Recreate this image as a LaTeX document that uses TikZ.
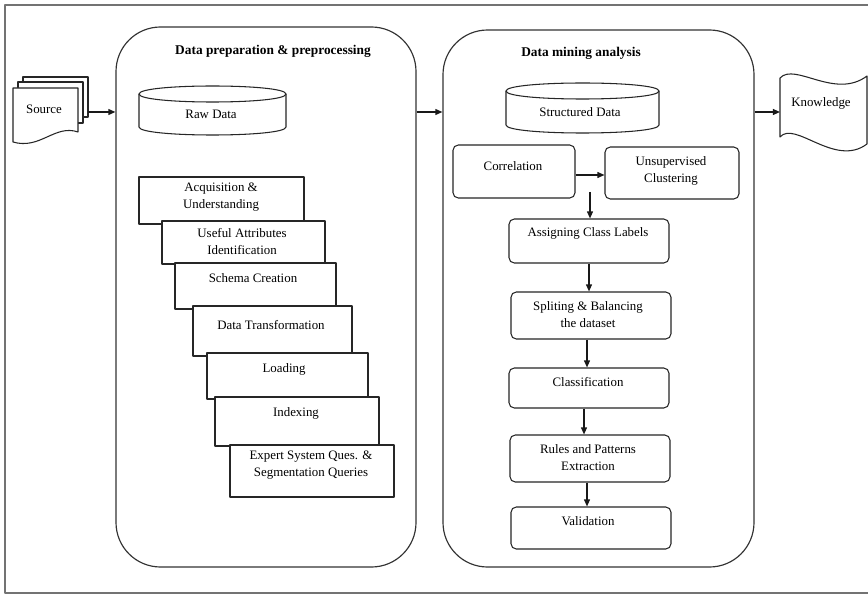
\documentclass[tikz,border=0pt]{standalone}
\usepackage{fontspec}
\setmainfont{Liberation Serif}
\usetikzlibrary{arrows.meta,calc}
\begin{document}
\begin{tikzpicture}[x=0.03cm,y=-0.03cm,
  line join=round,
  frame/.style={draw=black!55,line width=1.3pt},
  bigbox/.style={draw=black!80,line width=1pt,rounded corners=38pt,rectangle},
  stair/.style={draw=black!85,fill=white,line width=0.9pt,rectangle},
  rbox/.style={draw=black!85,line width=0.9pt,rounded corners=4.5pt,rectangle},
  shapeline/.style={draw=black!85,fill=white,line width=0.9pt},
  txt/.style={font=\fontsize{11}{14.5}\selectfont,align=center,inner sep=0pt,text=black},
  ttl/.style={font=\fontsize{11.4}{14}\selectfont\bfseries,inner sep=0pt,text=black},
  arr/.style={draw=black!90,line width=1.1pt,-{Triangle[length=6pt,width=5pt]}}
]
\useasboundingbox (0,0) rectangle (868,595);
\fill[white] (0,0) rectangle (868,595);
\draw[frame] (868,5) -- (5,5) -- (5,593) -- (868,593);

% big containers
\node[bigbox,minimum width=300*0.03cm,minimum height=540*0.03cm] (prep) at (266,297) {};
\node[bigbox,minimum width=311*0.03cm,minimum height=537*0.03cm] (mine) at (598.5,298.5) {};
\node[ttl] (prepT) at (273,51) {Data preparation \& preprocessing};
\node[ttl] (mineT) at (581,53) {Data mining analysis};

% source (multi-document)
\draw[shapeline] (23,77) rectangle (88,117);
\draw[shapeline] (18,82) rectangle (83,123);
\draw[shapeline] (13,88) -- (78,88) -- (78,132) .. controls (55,124) and (40,150) .. (13,142) -- cycle;
\node[txt] (source) at (44,109) {Source};
\coordinate (srcR) at (88,112);

% knowledge (tape)
\draw[shapeline] (780,78) .. controls (795,62) and (835,100) .. (867,76) -- (867,144) .. controls (835,168) and (795,120) .. (780,137) -- cycle;
\node[txt] (know) at (821,103) {Knowledge};
\coordinate (knowL) at (780,112);

% raw data cylinder
\draw[shapeline] (139,94) -- (139,127) .. controls (139,137.67) and (286,137.67) .. (286,127) -- (286,94);
\draw[shapeline] (139,94) .. controls (139,83.33) and (286,83.33) .. (286,94) .. controls (286,104.67) and (139,104.67) .. (139,94) -- cycle;
\node[txt] (raw) at (211,114) {Raw Data};

% structured data cylinder
\draw[shapeline] (506,91) -- (506,125) .. controls (506,135.67) and (659,135.67) .. (659,125) -- (659,91);
\draw[shapeline] (506,91) .. controls (506,80.33) and (659,80.33) .. (659,91) .. controls (659,101.67) and (506,101.67) .. (506,91) -- cycle;
\node[txt] (struct) at (580,112) {Structured Data};

% stair steps
\node[stair,minimum width=165*0.03cm,minimum height=47*0.03cm] (acq) at (221.5,200.5) {};
\node[txt] (acqT) at (221,197) {Acquisition \&\\Understanding};
\node[stair,minimum width=163*0.03cm,minimum height=43*0.03cm] (use) at (243.5,242.5) {};
\node[txt] (useT) at (242,241.5) {Useful Attributes\\Identification};
\node[stair,minimum width=161*0.03cm,minimum height=46*0.03cm] (schema) at (255.5,286) {};
\node[txt] (schemaT) at (253,278) {Schema Creation};
\node[stair,minimum width=159*0.03cm,minimum height=50*0.03cm] (dt) at (272.5,331) {};
\node[txt] (dtT) at (271,325) {Data Transformation};
\node[stair,minimum width=161*0.03cm,minimum height=46*0.03cm] (load) at (287.5,376) {};
\node[txt] (loadT) at (284,369) {Loading};
\node[stair,minimum width=164*0.03cm,minimum height=49*0.03cm] (idx) at (297,421.5) {};
\node[txt] (idxT) at (296,413) {Indexing};
\node[stair,minimum width=164*0.03cm,minimum height=52*0.03cm] (exp) at (312,471) {};
\node[txt] (expT) at (311,465) {Expert System Ques. \&\\Segmentation Queries};

% mining steps
\node[rbox,minimum width=122*0.03cm,minimum height=53*0.03cm] (corr) at (514,171.5) {};
\node[txt] (corrT) at (513,166) {Correlation};
\node[rbox,minimum width=134*0.03cm,minimum height=52*0.03cm] (unsup) at (672,173) {};
\node[txt] (unsupT) at (671,170.5) {Unsupervised\\Clustering};
\node[rbox,minimum width=160*0.03cm,minimum height=44*0.03cm] (assign) at (589,241) {};
\node[txt] (assignT) at (588,233) {Assigning Class Labels};
\node[rbox,minimum width=160*0.03cm,minimum height=47*0.03cm] (split) at (591,315.5) {};
\node[txt] (splitT) at (588,314.5) {Spliting \& Balancing\\the dataset};
\node[rbox,minimum width=160*0.03cm,minimum height=40*0.03cm] (class) at (589,388) {};
\node[txt] (classT) at (588,382) {Classification};
\node[rbox,minimum width=160*0.03cm,minimum height=47*0.03cm] (rules) at (590,458.5) {};
\node[txt] (rulesT) at (588,457.5) {Rules and Patterns\\Extraction};
\node[rbox,minimum width=160*0.03cm,minimum height=42*0.03cm] (valid) at (591,528) {};
\node[txt] (validT) at (588,521) {Validation};

% connectors
\draw[arr] (srcR) -- (srcR -| prep.west);
\draw[arr] (prep.east |- srcR) -- (mine.west |- srcR);
\draw[arr] (mine.east |- knowL) -- (knowL);
\draw[arr] ($(corr.east)+(0,3.5)$) -- ($(corr.east -| unsup.west)+(0,3.5)$);
\coordinate (gap) at (590,192);
\draw[arr] (gap) -- (gap |- assign.north);
\draw[arr] (assign.south) -- (assign.south |- split.north);
\draw[arr] ($(split.south)+(-4,0)$) -- ($(split.south |- class.north)+(-4,0)$);
\draw[arr] ($(class.south)+(-5,0)$) -- ($(class.south |- rules.north)+(-5,0)$);
\draw[arr] ($(rules.south)+(-3,0)$) -- ($(rules.south |- valid.north)+(-3,0)$);
\end{tikzpicture}
\end{document}
